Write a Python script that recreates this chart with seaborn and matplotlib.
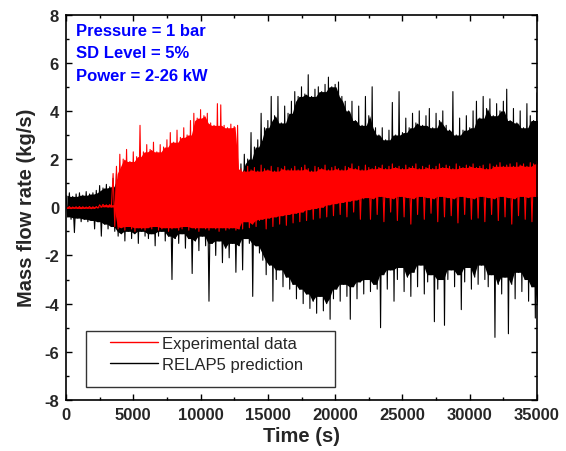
import numpy as np
import pandas as pd
import matplotlib
matplotlib.use("Agg")
import matplotlib.pyplot as plt
from matplotlib.lines import Line2D
from matplotlib.patches import Rectangle
import seaborn as sns

# ---------------- data (envelope readings every 250 s) ----------------
time_s = np.arange(0, 35001, 250)

relap_upper = [0.5, 0.6, 0.45, 0.55, 0.6, 0.5, 0.65, 0.55, 0.6, 0.7,
               0.9, 0.8, 0.95, 0.85,
               1.2, 1.4, 1.3, 1.5, 1.2, 1.4, 1.3, 1.6, 1.2, 1.5,
               1.3, 1.4, 1.2, 1.5, 1.3, 1.6, 1.4, 1.3, 1.5, 1.2,
               1.4, 1.6, 1.3, 1.5, 1.4, 1.2, 1.6, 1.3, 1.5, 1.4,
               1.3, 1.6, 1.2, 1.5, 1.4, 1.3, 1.6, 1.4,
               1.8, 2.2, 2.0, 3.1, 2.5, 2.8, 3.9,
               3.3, 3.6, 4.6, 3.8, 4.6, 3.5, 4.2, 3.9,
               4.4, 4.8, 4.6, 5.0, 4.7, 5.5, 4.6, 4.9, 5.0, 4.8, 5.1, 5.4, 5.0, 5.1, 5.2, 4.6, 4.4,
               4.0, 4.4, 3.6, 4.2, 3.4, 4.6, 3.8, 5.0, 3.3,
               3.0, 3.3, 2.8, 3.2, 4.35, 3.0, 4.8, 3.1,
               3.7, 3.3, 3.9, 3.5, 4.0, 3.4, 3.8, 4.1, 3.3, 3.9, 3.6, 4.0, 3.4, 3.2,
               4.8,
               3.0, 3.7, 3.2, 3.8, 3.3,
               4.0, 4.4, 3.7, 4.6, 4.1, 4.5, 3.8, 4.3, 4.0, 4.4, 4.9,
               3.6, 4.1, 3.5, 4.0, 3.3, 4.3, 3.8, 3.6, 4.75]

relap_lower = [-0.4, -0.5, -1.05, -0.45, -0.6, -0.5, -0.6, -0.55, -0.9, -0.6,
               -1.2, -0.7, -0.9, -0.8,
               -1.0, -1.2, -1.1, -1.4, -1.0, -1.3, -1.1, -1.5, -1.0, -1.2,
               -1.3, -1.1, -1.6, -1.2, -1.0, -1.4, -1.2, -3.0, -1.3, -1.5,
               -1.1, -1.7, -1.3, -2.75, -1.4, -1.8, -1.2, -1.6, -3.9, -1.5,
               -2.0, -1.4, -2.3, -1.7, -2.1, -1.5, -2.7, -1.6,
               -2.6, -1.3, -1.5, -3.7, -1.6, -1.9,
               -2.2, -2.8, -2.4, -3.9, -3.0, -2.6, -3.3, -2.9, -3.4,
               -3.2, -3.8, -3.4, -4.0, -3.6, -4.2, -3.9, -4.4, -3.7, -4.3, -4.0, -4.65,
               -3.8, -3.4, -3.9, -3.2, -3.7, -4.65, -3.3, -3.8, -3.1, -3.6, -3.0, -3.5, -3.2, -3.4,
               -5.0,
               -2.8, -3.4, -2.6, -3.9, -3.0, -2.5, -3.5, -2.9, -3.7, -2.7, -3.3, -2.4, -3.6, -3.1, -2.8,
               -4.75, -3.4, -3.0, -4.9,
               -3.0, -2.6, -3.3, -2.8, -4.25, -3.1, -2.5, -3.4, -2.9, -3.2, -2.4, -3.0, -3.3,
               -2.8, -5.4, -3.2, -3.6, -2.9, -5.25,
               -3.2, -3.8, -2.7, -3.5, -3.0, -3.9, -3.3, -4.6, -4.2]

exp_upper = [0.02, 0.03, 0.01, 0.02, 0.03, 0.02, 0.01, 0.03, 0.02, 0.03,
             0.1, 0.12, 0.1, 0.11,
             1.4, 1.7, 2.2, 2.0, 2.4, 1.9, 2.3, 2.1, 3.4, 2.3,
             2.6, 2.4, 2.7, 2.3, 2.6, 2.5, 2.8, 3.1, 2.7, 3.2,
             2.9, 3.3, 3.0, 3.6, 3.9, 3.7, 4.05, 3.8, 3.9, 3.5,
             3.4, 4.3, 4.25, 3.4, 3.3, 3.45, 3.35, 3.4,
             1.6, 1.5, 1.7, 1.55, 1.65, 1.5, 1.75, 1.6, 1.55, 1.7, 1.5, 1.65, 1.6, 1.7, 1.55,
             1.6, 1.7, 1.55, 1.65, 1.75, 1.6, 1.5, 1.7, 1.65, 1.6, 1.75, 1.55, 1.65, 1.7, 1.6,
             1.55, 1.7, 1.65, 1.8, 1.6, 1.7, 1.55, 1.75, 1.65, 1.6, 1.7,
             1.65, 1.75, 1.6, 1.7, 1.8, 1.65, 1.7, 1.6, 1.75, 1.65, 1.7, 1.8, 1.6,
             1.7, 1.65, 1.75, 1.6, 1.7, 1.8, 1.65, 1.75, 1.7, 1.6, 1.8, 1.7, 1.65,
             1.75, 1.7, 1.8, 1.65, 1.7, 1.75, 1.6, 1.8, 1.7, 1.75, 1.85,
             1.7, 1.75, 1.8, 1.7, 1.85, 1.75, 1.8, 1.7, 1.85, 1.8, 1.9]

exp_lower = [-0.05, -0.06, -0.04, -0.05, -0.06, -0.05, -0.04, -0.06, -0.05, -0.04,
             0.0, 0.02, 0.0, 0.01,
             -0.8, -0.9, -0.85, -0.95, -0.8, -0.9, -1.0, -0.85, -0.9, -0.95,
             -0.85, -0.9, -0.8, -0.95, -0.9, -0.85, -1.0, -0.9, -0.85, -0.95,
             -0.9, -0.8, -0.95, -0.85, -0.9, -1.0, -0.85, -0.9, -0.95, -0.85,
             -0.9, -1.0, -0.85, -0.95, -0.9, -0.85, -0.95, -0.9,
             -0.9, -0.6, -0.85, -0.7, -0.8, -0.55,
             -0.5, -0.9, -0.45, -0.8, -0.4, -0.7, -0.35, -0.75, -0.3,
             -0.65, -0.25, -0.6, -0.2, -0.55, -0.1, -0.5, -0.05, -0.45, 0.0, -0.4, 0.1, -0.35, 0.15,
             -0.3, 0.2, -0.4, 0.25, -0.2, 0.3, -0.5, 0.35,
             0.4, -0.5, 0.35, -0.3, 0.45, -0.6, 0.4, -0.2, 0.35, -0.55,
             0.45, -0.4, 0.4, -0.7, 0.35, -0.3, 0.45, -0.5, 0.4, -0.25,
             0.35, -0.6, 0.45, -0.4, 0.4, -0.35, 0.35, -0.65, 0.45, -0.3,
             0.4, -0.5, 0.35, -0.45, 0.45, -0.6, 0.4, -0.3, 0.35, -0.55,
             0.45, -0.4, 0.4, -0.7, 0.35, -0.35, 0.45, -0.5, 0.4, -0.6,
             0.45, -0.4]

x_ticks = [0, 5000, 10000, 15000, 20000, 25000, 30000, 35000]
y_ticks = [-8, -6, -4, -2, 0, 2, 4, 6, 8]
annotations = ["Pressure = 1 bar", "SD Level = 5%", "Power = 2-26 kW"]
series_labels = ["Experimental data", "RELAP5 prediction"]


def oscillation_frame(upper, lower):
    t = np.column_stack([time_s, time_s + 125]).ravel()
    v = np.column_stack([np.asarray(upper), np.asarray(lower)]).ravel()
    return pd.DataFrame({"Time": t, "Flow": v})


def body(upper, lower):
    # solid core of the oscillation band: the envelope that neighbouring samples share
    u = pd.Series(upper).rolling(3, center=True, min_periods=1).min().to_numpy()
    l = pd.Series(lower).rolling(3, center=True, min_periods=1).max().to_numpy()
    return u, l


df_relap = oscillation_frame(relap_upper, relap_lower)
df_exp = oscillation_frame(exp_upper, exp_lower)

# ---------------- styling ----------------
sns.set_style("ticks")
plt.rcParams["font.family"] = ["Liberation Sans", "DejaVu Sans"]

fig = plt.figure(figsize=(5.66, 4.52), dpi=100)
ax = fig.add_axes([66 / 566, 1 - 401 / 452, 471 / 566, 385.5 / 452])

bu, bl = body(relap_upper, relap_lower)
ax.fill_between(time_s + 62, bl, bu, color="black", lw=0, zorder=2)
sns.lineplot(data=df_relap, x="Time", y="Flow", color="black", lw=0.8,
             estimator=None, sort=False, ax=ax, legend=False, zorder=2)

eu, el = body(exp_upper, exp_lower)
ax.fill_between(time_s + 62, el, eu, color="#ff0000", lw=0, zorder=3)
sns.lineplot(data=df_exp, x="Time", y="Flow", color="#ff0000", lw=0.8,
             estimator=None, sort=False, ax=ax, legend=False, zorder=3)

ax.set_xlim(0, 35000)
ax.set_ylim(-8, 8)
ax.set_xticks(x_ticks)
ax.set_yticks(y_ticks)
ax.set_xticks(np.arange(2500, 35000, 5000), minor=True)
ax.set_yticks(np.arange(-7, 8, 2), minor=True)
ax.set_xticklabels([str(v) for v in x_ticks], fontsize=12, fontweight="bold")
ax.set_yticklabels([str(v) for v in y_ticks], fontsize=12, fontweight="bold")
ax.tick_params(which="both", direction="in", top=True, right=True, width=1.0, color="black")
ax.tick_params(which="major", length=4.5, pad=5)
ax.tick_params(which="minor", length=2.5)
for s in ax.spines.values():
    s.set_linewidth(1.2)
    s.set_color("black")
    s.set_zorder(10)

ax.set_xlabel("Time (s)", fontsize=14.5, fontweight="bold", labelpad=3)
ax.set_ylabel("Mass flow rate (kg/s)", fontsize=14.5, fontweight="bold", labelpad=6)

# annotation text
for i, txt in enumerate(annotations):
    ypx = [32, 54, 76.5][i]
    ax.text((76 - 66) / 471, (401 - ypx) / 385.5, txt, transform=ax.transAxes,
            color="#0000ff", fontsize=12, fontweight="bold", va="center", ha="left")

# legend box + legend
ax.add_patch(Rectangle(((86 - 66) / 471, (401 - 388) / 385.5), (335 - 86) / 471, (388 - 332) / 385.5,
                       transform=ax.transAxes, fill=True, facecolor="white",
                       edgecolor="#333333", lw=1.0, zorder=5))
handles = [Line2D([0], [0], color="#ff0000", lw=1.0),
           Line2D([0], [0], color="black", lw=1.0)]
leg = ax.legend(handles, series_labels, loc="upper left",
                bbox_to_anchor=((110 - 66) / 471, (401 - 337) / 385.5),
                frameon=False, fontsize=12, handlelength=2.85, handletextpad=0.3,
                borderpad=0, borderaxespad=0, labelspacing=0.35)
leg.set_zorder(6)

fig.savefig("out.png", dpi=100)
